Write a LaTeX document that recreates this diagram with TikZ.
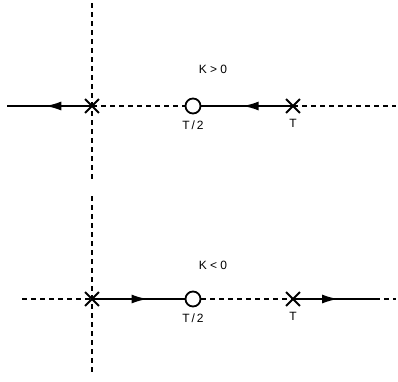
\documentclass[tikz,border=0pt]{standalone}
\usepackage{fontspec}
\setmainfont{Liberation Sans}
\usetikzlibrary{arrows.meta,positioning,shapes.misc,decorations.markings}

\begin{document}
\begin{tikzpicture}[x=1pt,y=-1pt,every node/.style={font=\fontsize{12}{14}\selectfont},
  pole/.style={draw,cross out,line width=1.8pt,minimum size=12pt,inner sep=0pt},
  zero/.style={draw,circle,line width=1.8pt,minimum size=15pt,inner sep=0pt,fill=white},
  axisline/.style={line width=1.8pt,dash pattern=on 5pt off 4pt},
  locus/.style={line width=1.8pt,postaction={decorate},decoration={markings,mark=at position #1 with {\arrow{Latex[length=16pt,width=9pt]}}}}]
  \useasboundingbox (0,0) rectangle (398,381);
  % K > 0
  \coordinate (vtopa) at (92,3);
  \coordinate (vtopb) at (92,180);
  \coordinate (ltopa) at (7,106);
  \coordinate (ltopb) at (396,106);
  \node[pole] (xa) at (92,106) {};
  \node[zero] (za) at (193,106) {};
  \node[pole] (xb) at (293,106) {};
  \node (gaina) at (213,69) {K > 0};
  \node[below=3pt of za] (halfa) {T\,/\,2};
  \node[below=3pt of xb] (ta) {T};
  \draw[axisline] (vtopa) -- (vtopb);
  \draw[axisline] (xa.center) -- (za);
  \draw[axisline] (xb.center) -- (ltopb);
  \draw[locus=0.55] (xa.center) -- (ltopa);
  \draw[locus=0.55] (xb.center) -- (za);
  % K < 0
  \coordinate (vbota) at (92,196);
  \coordinate (vbotb) at (92,373);
  \coordinate (lbota) at (22,299);
  \coordinate (lbotb) at (375,299);
  \coordinate (lbotc) at (396,299);
  \node[pole] (xc) at (92,299) {};
  \node[zero] (zc) at (193,299) {};
  \node[pole] (xd) at (293,299) {};
  \node (gainb) at (213,265) {K < 0};
  \node[below=3pt of zc] (halfb) {T\,/\,2};
  \node[below=3pt of xd] (tb) {T};
  \draw[axisline] (vbota) -- (vbotb);
  \draw[axisline] (lbota) -- (xc.center);
  \draw[axisline] (zc) -- (xd.center);
  \draw[axisline] (lbotb) -- (lbotc);
  \draw[locus=0.6] (xc.center) -- (zc);
  \draw[locus=0.55] (xd.center) -- (lbotb);
\end{tikzpicture}
\end{document}
